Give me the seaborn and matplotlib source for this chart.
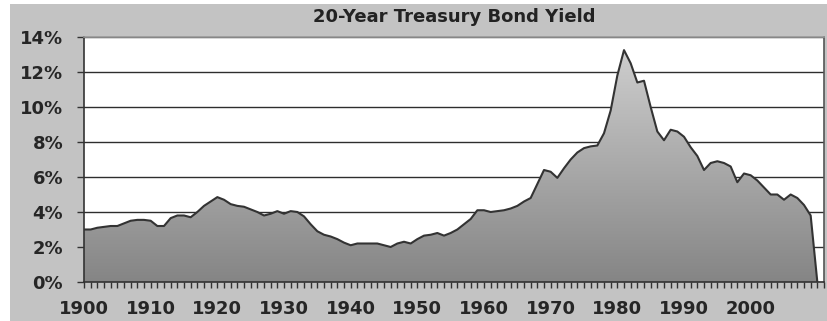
import numpy as np
import pandas as pd
import seaborn as sns
import matplotlib.pyplot as plt
from matplotlib.patches import Rectangle
from matplotlib.ticker import MultipleLocator, FuncFormatter

sns.set_theme(style="white")
plt.rcParams['font.family'] = ['DejaVu Sans']

# 20-year treasury bond yield (%), one value per year
years = list(range(1900, 2011))
yields = [
    3.0, 3.0, 3.1, 3.15, 3.2, 3.2, 3.35, 3.5, 3.55, 3.55,      # 1900s
    3.5, 3.2, 3.2, 3.65, 3.8, 3.8, 3.7, 4.0, 4.35, 4.6,        # 1910s
    4.85, 4.7, 4.45, 4.35, 4.3, 4.15, 4.0, 3.8, 3.9, 4.05,     # 1920s
    3.9, 4.05, 4.0, 3.75, 3.3, 2.9, 2.7, 2.6, 2.45, 2.25,      # 1930s
    2.1, 2.2, 2.2, 2.2, 2.2, 2.1, 2.0, 2.2, 2.3, 2.2,          # 1940s
    2.45, 2.65, 2.7, 2.8, 2.65, 2.8, 3.0, 3.3, 3.6, 4.1,       # 1950s
    4.1, 4.0, 4.05, 4.1, 4.2, 4.35, 4.6, 4.8, 5.6, 6.4,        # 1960s
    6.3, 5.95, 6.5, 7.0, 7.4, 7.65, 7.75, 7.8, 8.5, 9.8,       # 1970s
    11.8, 13.25, 12.5, 11.4, 11.5, 10.0, 8.6, 8.1, 8.7, 8.6,   # 1980s
    8.3, 7.7, 7.2, 6.4, 6.8, 6.9, 6.8, 6.6, 5.7, 6.2,          # 1990s
    6.1, 5.8, 5.4, 5.0, 5.0, 4.7, 5.0, 4.8, 4.4, 3.8,          # 2000s
    0.0,                                                       # 2010
]
y_ticks = [0, 2, 4, 6, 8, 10, 12, 14]
x_labels = list(range(1900, 2001, 10))

df = pd.DataFrame({"Year": years, "Yield": yields})

fig = plt.figure(figsize=(8.27, 3.21), dpi=100, facecolor="white")
# grey chart background (Excel style)
fig.patches.append(Rectangle((10 / 827, 0), 1, 1 - 4 / 321, transform=fig.transFigure,
                             facecolor="#c3c3c3", edgecolor="none", zorder=-10))
ax = fig.add_axes([84 / 827, 39 / 321, 740 / 827, 245 / 321])
ax.set_facecolor("white")

# gradient fill under the curve
poly = ax.fill_between(df["Year"], df["Yield"], 0, color="none", lw=0)
grad = np.linspace(1, 0, 256).reshape(-1, 1)
img = ax.imshow(grad, cmap=plt.matplotlib.colors.LinearSegmentedColormap.from_list(
    "g", ["#858585", "#d2d2d2"]), aspect="auto", extent=[1900, 2011, 0, 14],
    origin="upper", zorder=2)
img.set_clip_path(poly.get_paths()[0], transform=ax.transData)

sns.lineplot(data=df, x="Year", y="Yield", ax=ax, color="#333333", linewidth=1.5, zorder=3)

ax.set_xlim(1900, 2011)
ax.set_ylim(0, 14)
ax.set_yticks(y_ticks)
ax.yaxis.set_major_formatter(FuncFormatter(lambda v, p: f"{int(v)}%"))
ax.set_xticks(x_labels)
ax.xaxis.set_minor_locator(MultipleLocator(1))
ax.grid(axis="y", color="#2e2e2e", linewidth=1.0, zorder=1)
ax.set_axisbelow(True)

for lab in ax.get_xticklabels() + ax.get_yticklabels():
    lab.set_fontweight("bold")
ax.tick_params(axis="x", which="both", direction="out", length=4, width=1,
               color="#333333", labelsize=13, pad=9, bottom=True)
ax.tick_params(axis="y", direction="out", length=5, width=1, color="#333333",
               labelsize=13, pad=10, left=True)
ax.set_xlabel("")
ax.set_ylabel("")

ax.spines["left"].set_color("#333333")
ax.spines["bottom"].set_color("#333333")
ax.spines["right"].set_color("#555555")
ax.spines["top"].set_color("#999999")
for s in ax.spines.values():
    s.set_linewidth(1.2)

ax.set_title("20-Year Treasury Bond Yield", fontsize=13, fontweight="bold",
             color="#222222", pad=11)

fig.savefig("out.png", dpi=100, facecolor=fig.get_facecolor())
